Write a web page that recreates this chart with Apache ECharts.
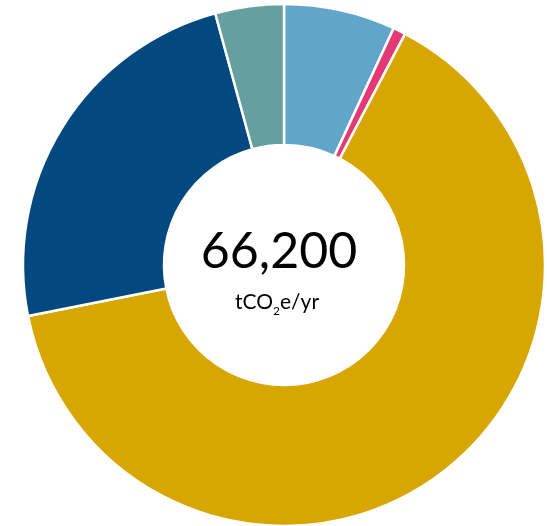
<!DOCTYPE html>
<html><head><meta charset="utf-8">
<script src="https://cdn.jsdelivr.net/npm/echarts@6/dist/echarts.min.js"></script>
<style>html,body{margin:0;padding:0;background:#fff}#c{width:547px;height:526px}</style>
</head><body><div id="c"></div>
<script>
const categories = ['A', 'B', 'C', 'D', 'E'];
const values = [4570, 515, 42490, 15815, 2810];
const colors = ['#62a5ca', '#e33a75', '#d8a600', '#03497f', '#659f9f'];
const totalLabel = '66,200';

const chart = echarts.init(document.getElementById('c'), null, {renderer: 'canvas'});
chart.setOption({
  animation: false,
  series: [{
    type: 'pie',
    center: [284, 265],
    radius: [120, 261],
    startAngle: 90,
    clockwise: true,
    label: {show: false},
    labelLine: {show: false},
    itemStyle: {borderColor: '#fff', borderWidth: 2.5},
    data: categories.map((c, i) => ({name: c, value: values[i], itemStyle: {color: colors[i]}}))
  }],
  graphic: [
    {type: 'text', style: {text: totalLabel, x: 279, y: 252, align: 'center', verticalAlign: 'middle', fontFamily: 'Lato', fontSize: 50, fill: '#000'}},
    {type: 'text', style: {
      text: '{a|tCO}{b|2}{a|e/yr}', x: 277, y: 301, align: 'center', verticalAlign: 'middle',
      rich: {
        a: {fontFamily: 'Lato', fontSize: 21, color: '#000', lineHeight: 24, verticalAlign: 'bottom'},
        b: {fontFamily: 'Lato', fontSize: 12, color: '#000', lineHeight: 24, verticalAlign: 'bottom', padding: [0, 0, -4, 0]}
      }
    }}
  ]
});
</script></body></html>
